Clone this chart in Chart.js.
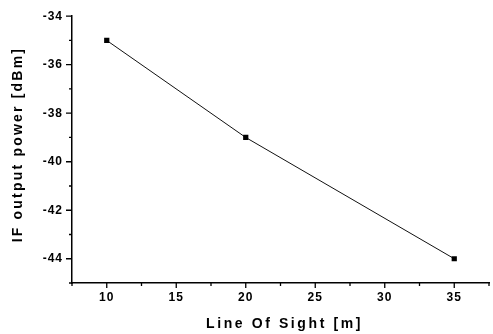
<!DOCTYPE html>
<html><head><meta charset="utf-8">
<script src="https://cdn.jsdelivr.net/npm/chart.js@4/dist/chart.umd.min.js"></script>
<style>html,body{margin:0;padding:0;background:#fff}#c{display:block}</style>
</head><body>
<canvas id="c" width="493" height="334"></canvas>
<script>
const distances = [10, 20, 35];
const powers = [-35, -39, -44];
const xMajorTicks = [10, 15, 20, 25, 30, 35];
const yMajorTicks = [-44, -42, -40, -38, -36, -34];
const xTitle = 'Line Of Sight [m]';
const yTitle = 'IF output power [dBm]';

const tickPlugin = {
  id: 'ticks',
  beforeDraw(chart) { chart.ctx.letterSpacing = '1px'; },
  afterDraw(chart) {
    const ctx = chart.ctx, x = chart.scales.x, y = chart.scales.y;
    ctx.save();
    ctx.strokeStyle = '#000'; ctx.lineWidth = 1.3;
    ctx.beginPath();
    for (let v = 7.5; v <= 37.5; v += 2.5) {
      const px = x.getPixelForValue(v);
      const major = xMajorTicks.includes(v);
      ctx.moveTo(px, y.bottom); ctx.lineTo(px, y.bottom + (major ? 5 : 3));
    }
    for (let v = -45; v <= -34; v += 1) {
      const py = y.getPixelForValue(v);
      const major = yMajorTicks.includes(v);
      ctx.moveTo(x.left, py); ctx.lineTo(x.left - (major ? 6 : 3), py);
    }
    ctx.stroke();
    // axis titles with letter spacing
    ctx.fillStyle = '#000';
    ctx.font = 'bold 14px "Liberation Sans"';
    ctx.textAlign = 'center';
    ctx.textBaseline = 'middle';
    ctx.letterSpacing = '2.6px';
    ctx.fillText(xTitle, (x.left + x.right) / 2 + 4, 324);
    ctx.letterSpacing = '2.2px';
    ctx.translate(18, (y.top + y.bottom) / 2 - 5);
    ctx.rotate(-Math.PI / 2);
    ctx.fillText(yTitle, 0, 0);
    ctx.restore();
  }
};

new Chart(document.getElementById('c'), {
  type: 'scatter',
  data: {
    datasets: [{
      data: distances.map((d, i) => ({x: d, y: powers[i]})),
      showLine: true,
      borderColor: '#111',
      borderWidth: 1,
      backgroundColor: '#000',
      pointStyle: 'rect',
      pointRadius: 3.7,
      pointBorderWidth: 0
    }]
  },
  plugins: [tickPlugin],
  options: {
    responsive: false,
    animation: false,
    layout: {padding: {top: 12, right: 3, left: 0, bottom: 0}},
    plugins: {legend: {display: false}, tooltip: {enabled: false}},
    scales: {
      x: {
        type: 'linear', min: 7.5, max: 37.5,
        afterBuildTicks(s) { s.ticks = xMajorTicks.map(v => ({value: v})); },
        afterFit(s) { s.height = 51; },
        grid: {display: false, drawTicks: false},
        border: {display: true, color: '#000', width: 1.5},
        ticks: {color: '#000', padding: 7, font: {family: 'Liberation Sans', weight: 'bold', size: 12}},
        title: {display: false}
      },
      y: {
        type: 'linear', min: -45, max: -34,
        afterBuildTicks(s) { s.ticks = yMajorTicks.map(v => ({value: v})); },
        afterFit(s) { s.width = 72; },
        grid: {display: false, drawTicks: false},
        border: {display: true, color: '#000', width: 1.5},
        ticks: {color: '#000', padding: 9, font: {family: 'Liberation Sans', weight: 'bold', size: 12}},
        title: {display: false}
      }
    }
  }
});
</script>
</body></html>
